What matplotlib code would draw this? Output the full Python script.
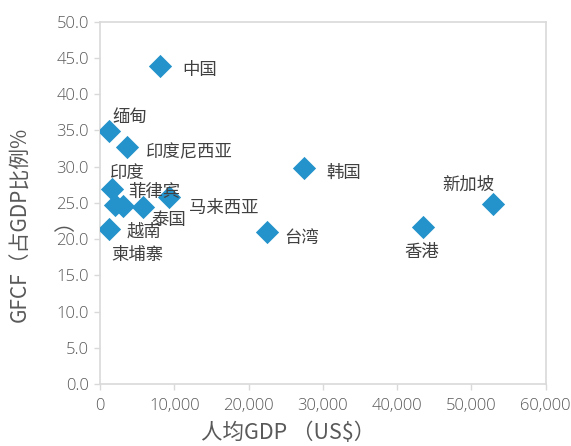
import matplotlib
matplotlib.use("Agg")
import matplotlib.pyplot as plt
from matplotlib.ticker import FuncFormatter, MultipleLocator

plt.rcParams['font.family'] = ['Open Sans', 'Noto Sans CJK SC', 'DejaVu Sans']

# economies, GDP per capita (US$) and GFCF (% of GDP)
names = ['中国', '缅甸', '印度尼西亚', '印度', '越南', '菲律宾', '泰国',
         '马来西亚', '柬埔寨', '韩国', '台湾', '香港', '新加坡']
gdp_pc = [8100, 1210, 3630, 1580, 2020, 3060, 5830,
          9290, 1210, 27500, 22440, 43520, 52940]
gfcf = [43.9, 34.9, 32.7, 26.9, 24.7, 24.5, 24.4,
        25.8, 21.4, 29.8, 21.0, 21.6, 24.9]

# label offsets in pixels (dx, dy), hand placed like the original
offsets = [(40, -4), (21, 14), (62, -5), (16, 16), (29, -27), (32, 15), (25, -13),
           (55, -11), (28, -26), (39, -5), (35, -6), (-2, -25), (-25, 19)]

GRAY = '#595959'
BLUE = '#2492CB'
CJK = ['Noto Sans CJK SC', 'DejaVu Sans']

fig = plt.figure(figsize=(5.71, 4.46), dpi=100)
ax = fig.add_axes([0.1751, 0.1390, 0.7806, 0.8123])

ax.scatter(gdp_pc, gfcf, marker='D', s=140, color=BLUE, zorder=3, linewidths=0)

for name, x, y, (dx, dy) in zip(names, gdp_pc, gfcf, offsets):
    ax.annotate(name, (x, y), xytext=(dx, dy), textcoords='offset pixels',
                ha='center', va='center', fontsize=12.5, color='#404040',
                family=CJK)

ax.set_xlim(0, 60000)
ax.set_ylim(0, 50)
ax.xaxis.set_major_locator(MultipleLocator(10000))
ax.yaxis.set_major_locator(MultipleLocator(5))
ax.xaxis.set_major_formatter(FuncFormatter(lambda v, p: f'{v:,.0f}'))
ax.yaxis.set_major_formatter(FuncFormatter(lambda v, p: f'{v:.1f}'))

for s in ax.spines.values():
    s.set_color('#d9d9d9')
    s.set_linewidth(1.2)
ax.tick_params(colors='#d9d9d9', labelcolor=GRAY, labelsize=12, length=4, width=1)
for lab in ax.get_xticklabels() + ax.get_yticklabels():
    lab.set_fontweight('light')
ax.tick_params(axis='x', pad=6)
ax.tick_params(axis='y', pad=4)

fig.text(0.505, 0.03, '人均GDP （US$）', ha='center', va='center',
         fontsize=15.5, color=GRAY, family=CJK)
fig.text(0.036, 0.497, 'GFCF（占GDP比例%', rotation=90, ha='center', va='center',
         fontsize=15, color=GRAY, family=CJK)
fig.text(0.1156, 0.504, '）', rotation=90, ha='center', va='center',
         fontsize=15, color=GRAY, family=CJK)

fig.savefig('out.png', dpi=100)
